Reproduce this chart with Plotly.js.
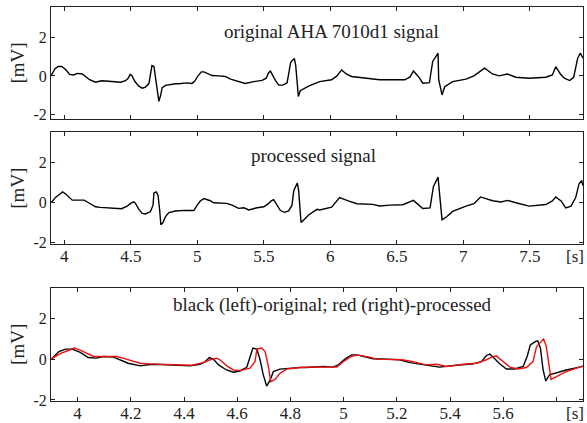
<!DOCTYPE html>
<html>
<head>
<meta charset="utf-8">
<script src="https://cdn.plot.ly/plotly-3.0.1.min.js"></script>
<style>
html,body{margin:0;padding:0;background:#fff;}
#chart{width:587px;height:423px;}
</style>
</head>
<body>
<div id="chart"></div>
<script>
// Original AHA 7010d1 signal (time [s], amplitude [mV])
const tOrig = [3.9, 3.93, 3.954, 3.98, 4.01, 4.04, 4.07, 4.098, 4.135, 4.16, 4.19, 4.235, 4.28, 4.335, 4.385, 4.423, 4.46, 4.48, 4.495, 4.51, 4.53, 4.56, 4.586, 4.61, 4.636, 4.648, 4.659, 4.674, 4.686, 4.698, 4.711, 4.724, 4.736, 4.761, 4.799, 4.836, 4.861, 4.924, 4.96, 4.98, 5.005, 5.03, 5.05, 5.08, 5.111, 5.16, 5.21, 5.25, 5.30, 5.36, 5.425, 5.487, 5.518, 5.537, 5.55, 5.565, 5.587, 5.612, 5.643, 5.675, 5.69, 5.702, 5.712, 5.722, 5.73, 5.74, 5.75, 5.76, 5.774, 5.80, 5.837, 5.887,
  5.92, 6.01, 6.05, 6.085, 6.12, 6.16, 6.22, 6.27, 6.37, 6.47, 6.56, 6.6, 6.625, 6.645, 6.67, 6.695, 6.745, 6.77, 6.795, 6.81, 6.815, 6.84, 6.86, 6.92, 7.02, 7.08, 7.16, 7.22, 7.27, 7.33, 7.395, 7.495, 7.62, 7.67, 7.695, 7.73, 7.76, 7.80, 7.83, 7.86, 7.88, 7.9];
const vOrig = [0, 0.37, 0.49, 0.49, 0.33, 0.08, 0.05, 0.13, 0.1, -0.03, -0.2, -0.33, -0.25, -0.28, -0.3, -0.33, -0.25, -0.12, 0.08, 0, -0.28, -0.53, -0.64, -0.58, -0.4, 0.05, 0.54, 0.49, -0.03, -0.77, -1.32, -1.02, -0.61, -0.49, -0.44, -0.41, -0.41, -0.36, -0.39, -0.28, 0, 0.21, 0.21, 0.13, 0.02, 0, -0.03, -0.17, -0.28, -0.39, -0.3, -0.23, -0.12, 0.18, 0.25, 0.05, -0.23, -0.48, -0.48, -0.36, 0.13, 0.7, 0.79, 0.87, 0.9, 0.54, -0.53, -1.07, -0.77, -0.66, -0.53, -0.39,
  -0.3, -0.2, 0.0, 0.31, 0.1, -0.03, -0.08, -0.12, -0.2, -0.2, -0.2, -0.05, 0.26, 0.1, -0.1, -0.38, -0.35, 0.75, 1.0, 1.18, -0.2, -0.99, -0.56, -0.3, -0.17, 0, 0.4, 0.1, 0, 0.1, -0.07, -0.12, -0.07, 0.05, 0.48, 0.1, -0.12, -0.24, -0.07, 0.92, 1.18, 0.92];

// Processed signal (time [s], amplitude [mV])
const tProc = [3.9, 3.936, 3.96, 3.988, 4.01, 4.04, 4.06, 4.098, 4.148, 4.17, 4.204, 4.235, 4.27, 4.335, 4.385, 4.43, 4.473, 4.498, 4.523, 4.535, 4.561, 4.586, 4.61, 4.648, 4.667, 4.674, 4.692, 4.705, 4.717, 4.726, 4.742, 4.761, 4.786, 4.836, 4.9, 4.974, 4.999, 5.024, 5.05, 5.068, 5.098, 5.123, 5.17, 5.22, 5.262, 5.31, 5.35, 5.387, 5.45, 5.5, 5.537, 5.556, 5.574, 5.593, 5.625, 5.655, 5.687, 5.712, 5.725, 5.74, 5.752, 5.762, 5.772, 5.78, 5.80, 5.837, 5.9,
  5.92, 6.01, 6.07, 6.135, 6.2, 6.32, 6.37, 6.45, 6.545, 6.625, 6.695, 6.75, 6.775, 6.81, 6.825, 6.84, 6.875, 6.92, 7.02, 7.08, 7.13, 7.22, 7.285, 7.33, 7.395, 7.495, 7.62, 7.67, 7.695, 7.735, 7.77, 7.81, 7.845, 7.87, 7.89, 7.9];
const vProc = [0, 0.28, 0.4, 0.54, 0.44, 0.25, 0.13, 0.13, 0.13, 0.05, -0.07, -0.2, -0.23, -0.25, -0.25, -0.3, -0.17, -0.03, 0.05, -0.03, -0.33, -0.53, -0.56, -0.44, -0.12, 0.49, 0.54, 0.37, -0.36, -1.1, -0.99, -0.69, -0.49, -0.41, -0.38, -0.39, -0.12, 0.1, 0.21, 0.18, 0.1, 0, 0, -0.03, -0.12, -0.28, -0.25, -0.36, -0.25, -0.2, -0.03, 0.1, 0.16, -0.03, -0.39, -0.48, -0.41, -0.12, 0.59, 0.82, 0.98, 0.62, -0.36, -0.99, -0.86, -0.61, -0.33,
  -0.36, -0.22, 0.26, 0.09, -0.05, -0.08, -0.16, -0.12, -0.1, 0.12, -0.29, -0.26, 0.8, 1.28, 0.3, -0.85, -0.7, -0.43, -0.17, -0.05, 0.29, 0.1, 0.04, 0.12, 0, -0.17, -0.09, 0.09, 0.29, 0.09, -0.26, -0.17, 0.26, 0.94, 1.11, 0.85];

// Tick labels
const yTickVals = [-2, 0, 2];
const yTickText = ['-2', '0', '2'];
const xTickValsWide = [4, 4.5, 5, 5.5, 6, 6.5, 7, 7.5];
const xTickTextWide = ['4', '4.5', '5', '5.5', '6', '6.5', '7', '7.5'];
const xTickValsZoom = [4, 4.2, 4.4, 4.6, 4.8, 5, 5.2, 5.4, 5.6, 5.8];
const xTickTextZoom = ['4', '4.2', '4.4', '4.6', '4.8', '5', '5.2', '5.4', '5.6', ''];

const titles = ['original AHA 7010d1 signal', 'processed signal', 'black (left)-original; red (right)-processed'];

const FONT = 'Liberation Serif, Times New Roman, serif';
const INK = '#222';

function xAx(range, tv, tt, showLabels, domainAnchor) {
  return {
    range: range, tickvals: tv, ticktext: tt, showticklabels: showLabels,
    ticks: 'inside', ticklen: 4, tickwidth: 1, tickcolor: INK,
    showline: true, linecolor: INK, linewidth: 1, mirror: 'allticks',
    showgrid: false, zeroline: false, anchor: domainAnchor,
    ticklabelstandoff: -3,
    tickfont: {family: FONT, size: 17, color: INK}
  };
}
function yAx(range, dom, anchor) {
  return {
    range: range, domain: dom, anchor: anchor,
    tickvals: yTickVals, ticktext: yTickText,
    ticks: 'inside', ticklen: 4, tickwidth: 1, tickcolor: INK,
    showline: true, linecolor: INK, linewidth: 1, mirror: 'allticks',
    showgrid: false, zeroline: false,
    tickfont: {family: FONT, size: 16, color: INK},
    title: {text: '[mV]', font: {family: FONT, size: 19, color: INK}, standoff: 3}
  };
}

const data = [
  {x: tOrig, y: vOrig, xaxis: 'x', yaxis: 'y', mode: 'lines', line: {color: '#000', width: 1.4}},
  {x: tProc, y: vProc, xaxis: 'x2', yaxis: 'y2', mode: 'lines', line: {color: '#000', width: 1.4}},
  {x: tOrig, y: vOrig, xaxis: 'x3', yaxis: 'y3', mode: 'lines', line: {color: '#000', width: 1.4}},
  {x: tProc, y: vProc, xaxis: 'x3', yaxis: 'y3', mode: 'lines', line: {color: '#ee1111', width: 1.4}}
];

const layout = {
  width: 587, height: 423,
  margin: {l: 51, r: 4, t: 7, b: 22},
  paper_bgcolor: '#fff', plot_bgcolor: '#fff',
  showlegend: false,
  font: {family: FONT, color: INK},
  xaxis: xAx([3.9, 7.9], xTickValsWide, xTickTextWide, false, 'y'),
  xaxis2: xAx([3.9, 7.9], xTickValsWide, xTickTextWide, true, 'y2'),
  xaxis3: xAx([3.9, 5.9], xTickValsZoom, xTickTextZoom, true, 'y3'),
  yaxis: yAx([-2.24, 3.58], [0.7157, 1], 'x'),
  yaxis2: yAx([-2.06, 3.52], [0.3985, 0.682], 'x2'),
  yaxis3: yAx([-2.05, 3.5], [0, 0.2876], 'x3'),
  annotations: [
    {text: titles[0], xref: 'paper', yref: 'paper', x: 0.527, y: 0.939, showarrow: false, xanchor: 'center', yanchor: 'middle', font: {family: FONT, size: 19, color: INK}},
    {text: titles[1], xref: 'paper', yref: 'paper', x: 0.494, y: 0.624, showarrow: false, xanchor: 'center', yanchor: 'middle', font: {family: FONT, size: 19, color: INK}},
    {text: titles[2], xref: 'paper', yref: 'paper', x: 0.529, y: 0.2437, showarrow: false, xanchor: 'center', yanchor: 'middle', font: {family: FONT, size: 19, color: INK}},
    {text: '[s]', xref: 'paper', yref: 'y2 domain', x: 1, y: 0, xanchor: 'right', yanchor: 'top', xshift: 3, yshift: -1, showarrow: false, font: {family: FONT, size: 17, color: INK}},
    {text: '[s]', xref: 'paper', yref: 'y3 domain', x: 1, y: 0, xanchor: 'right', yanchor: 'top', xshift: 3, yshift: -1, showarrow: false, font: {family: FONT, size: 17, color: INK}}
  ]
};

Plotly.newPlot('chart', data, layout, {staticPlot: true, displayModeBar: false});
</script>
</body>
</html>
